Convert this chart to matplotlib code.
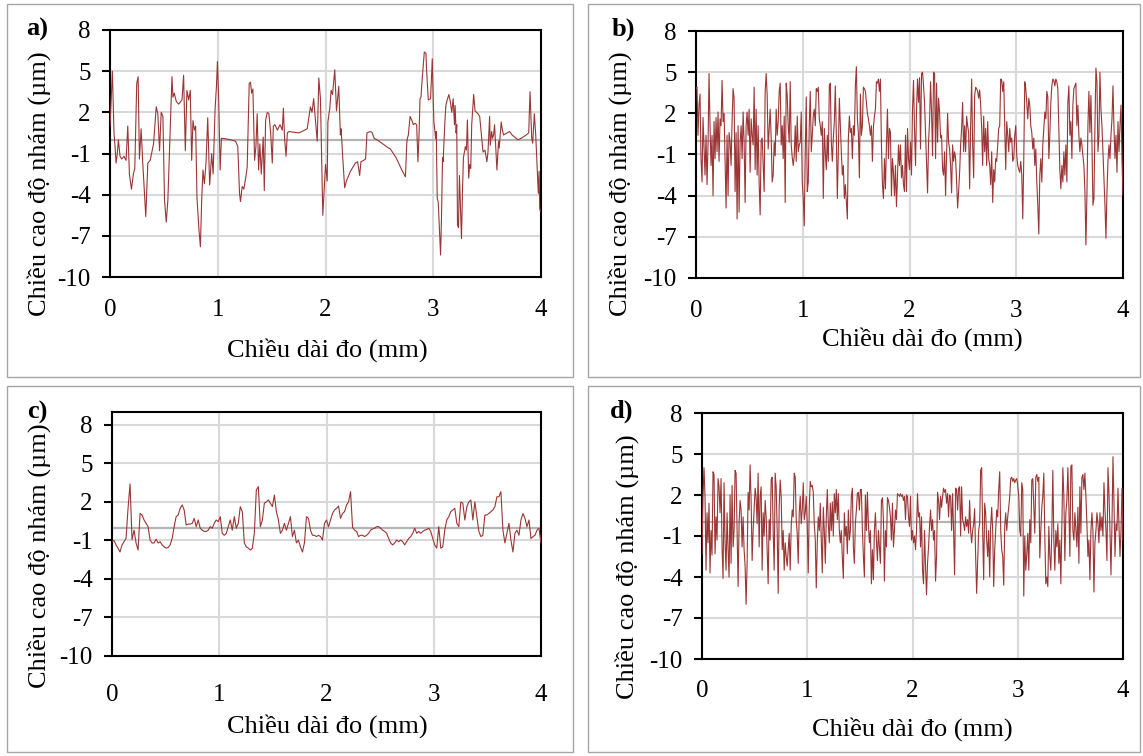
import numpy as np
import matplotlib.pyplot as plt
from matplotlib.patches import Rectangle

# --- Surface roughness profiles ---
a_x = [0.000, 0.006, 0.022, 0.037, 0.047, 0.056, 0.068, 0.078, 0.093, 0.109,
       0.130, 0.149, 0.165, 0.180, 0.199, 0.217, 0.230, 0.248, 0.261, 0.273,
       0.289, 0.304, 0.332, 0.351, 0.373, 0.404, 0.429, 0.444, 0.460, 0.475,
       0.491, 0.506, 0.522, 0.537, 0.559, 0.575, 0.584, 0.596, 0.615, 0.637,
       0.668, 0.683, 0.699, 0.714, 0.730, 0.745, 0.758, 0.770, 0.783, 0.795,
       0.807, 0.826, 0.839, 0.851, 0.863, 0.876, 0.891, 0.907, 0.925, 0.944,
       0.957, 0.975, 0.988, 0.997, 1.009, 1.022, 1.034, 1.056, 1.118, 1.165,
       1.186, 1.202, 1.211, 1.227, 1.242, 1.261, 1.273, 1.292, 1.304, 1.314,
       1.326, 1.342, 1.354, 1.366, 1.379, 1.391, 1.404, 1.422, 1.432, 1.444,
       1.460, 1.475, 1.491, 1.506, 1.516, 1.531, 1.553, 1.578, 1.599, 1.609,
       1.621, 1.634, 1.646, 1.661, 1.755, 1.830, 1.860, 1.875, 1.890, 1.923,
       1.938, 1.953, 1.975, 2.000, 2.016, 2.022, 2.040,
       2.052, 2.065, 2.086, 2.102, 2.123, 2.138, 2.145, 2.160, 2.178, 2.194,
       2.231, 2.277, 2.298, 2.317, 2.329, 2.354, 2.372, 2.385, 2.415, 2.431,
       2.452, 2.477, 2.523, 2.585, 2.600, 2.655, 2.702, 2.742, 2.754, 2.760,
       2.769, 2.785, 2.800, 2.815, 2.831, 2.846, 2.858, 2.868, 2.877, 2.886,
       2.898, 2.917, 2.932, 2.938, 2.954, 2.975, 2.991, 3.000, 3.006, 3.022,
       3.028, 3.037, 3.046, 3.068, 3.077, 3.086, 3.092, 3.098, 3.108, 3.117,
       3.129, 3.145, 3.160, 3.172, 3.185, 3.197, 3.203, 3.212, 3.218, 3.225,
       3.234, 3.243, 3.262, 3.271, 3.280, 3.289, 3.298, 3.308, 3.317, 3.329,
       3.338, 3.348, 3.357, 3.375, 3.388, 3.415, 3.431, 3.462, 3.480, 3.498,
       3.508, 3.523, 3.529, 3.542, 3.551, 3.560, 3.569, 3.591, 3.606, 3.612,
       3.631, 3.640, 3.652, 3.708, 3.732, 3.785, 3.815, 3.862, 3.886, 3.898,
       3.914, 3.923, 3.938, 3.951, 3.966, 3.975, 3.982, 3.988, 3.994]
a_um = [1.0, 2.0, 5.0, 0.5, -0.5, -1.7, -1.0, 0.0, -1.2, -1.4,
        -1.2, -1.5, 1.0, -2.5, -3.6, -2.5, -2.1, 4.1, 4.6, -1.4,
        0.8, -1.7, -5.6, -1.7, -1.5, -0.3, 2.4, 1.9, -0.8, 2.0,
        1.7, -4.4, -6.0, -4.4, 0.7, 4.6, 3.1, 3.4, 2.8, 2.6,
        2.9, 4.7, -0.8, 3.6, 2.9, 3.6, -1.5, 1.4, 0.7, 1.0,
        -4.2, -6.6, -7.8, -4.4, -2.2, -3.2, -1.7, 1.6, -3.3, -1.0,
        -2.5, 2.2, 3.9, 5.7, 2.9, -2.2, 0.1, 0.1, 0.0, -0.1,
        -0.5, -3.9, -4.5, -3.4, -3.6, -2.7, -2.0, 4.1, 4.2, 3.4,
        3.7, -1.5, -0.5, 1.9, -2.2, -0.3, -2.5, 0.2, -3.7, 1.4,
        2.0, 1.9, 0.5, -1.7, 1.0, 1.1, 0.7, 1.1, 0.7, 2.3,
        0.0, -1.2, 0.5, 0.6, 0.5, 0.8, 2.4, 2.0, 3.0, -0.1,
        4.5, 3.0, -5.5, -1.8, -3.0, 1.3, 2.3,
        3.6, 3.3, 5.1, 2.1, 3.9, 0.35, 0.8, -1.3, -3.5, -3.0,
        -2.3, -1.7, -1.6, -2.6, -1.6, -1.5, -1.4, 0.5, 0.6, 0.55,
        0.1, 0.0, -0.25, -0.6, -0.65, -1.3, -2.1, -2.7, -0.25, 0.1,
        0.35, 1.7, 1.45, 1.1, 1.2, 1.1, -1.6, 0.35, 3.0, 3.1,
        4.5, 6.4, 6.3, 5.1, 2.9, 3.0, 5.9, 2.9, 1.3, 0.1,
        0.6, -4.3, -4.5, -8.4, -5.5, -1.3, -1.6, -0.4, 1.3, 2.5,
        2.9, 3.3, 2.7, 2.0, 3.0, 1.1, 2.5, 0.5, 1.1, -6.2,
        -6.4, -2.6, -7.2, -3.8, -1.3, -0.9, -0.5, -0.75, 1.45, -2.8,
        -1.8, -2.1, 1.1, 3.3, 2.1, 1.9, 1.7, -0.9, -0.75, -1.6,
        -0.9, 1.7, -0.4, 0.6, 0.1, 0.35, 1.1, -2.2, -0.1, -0.6,
        1.3, 0.8, 0.35, 0.6, 0.35, 0.0, 0.1, 0.35, 0.5, 3.5,
        0.1, -0.25, 1.9, 0.35, -2.3, -3.9, -2.3, -5.0, -5.2]

# b, c, d are evenly sampled along the 4 mm measuring length
b_um = [3.8, 3.9, 0.4, 2.6, 3.4, -1.3, -3.0, 1.7, -0.3, -2.5,
        0.4, -3.2, -0.3, 4.9, 1.1, -1.8, 0.4, -4.0, 1.4, -1.3,
        1.7, -0.8, 2.1, -1.5, 1.6, 1.1, 4.4, 1.4, 2.0, -1.3,
        -4.9, 0.4, -4.0, 0.6, -0.1, -1.8, 1.4, 3.8, 3.1, -3.7,
        0.6, -5.7, 1.1, -5.2, -0.1, 1.1, -1.3, 2.1, -0.1, -4.5,
        1.1, 2.1, 0.4, 2.3, -2.3, 1.6, 0.4, -0.3, 3.9, -2.1,
        2.3, -2.5, 1.1, -3.2, -5.4, 0.0, 0.2, -1.8, -3.7, 3.6,
        4.9, 3.3, -0.6, 0.9, 2.3, 0.2, -3.0, -2.5, -0.1, -1.1,
        2.3, 0.4, 1.4, 3.6, 4.2, -0.3, 1.1, -1.3, 1.8, -4.5,
        4.2, 3.3, 1.1, -0.1, 4.3, -0.3, -1.2, -1.8, -1.1, 1.1,
        -1.5, 1.8, -0.8, -0.3, -0.1, 2.1, -3.0, -4.2, -6.2, -0.8,
        3.2, -3.7, -3.0, 1.1, 3.6, -0.8, 0.4, 1.8, 2.3, 1.1,
        3.8, 3.6, 3.9, 1.6, 1.1, 0.4, 1.4, -4.2, 0.9, -0.8,
        -2.1, 0.4, -1.5, 4.0, 4.2, -0.1, -1.5, 0.2, 1.4, 4.0,
        0.4, -4.2, -0.8, 3.1, 1.1, -0.8, -2.5, -1.8, -4.2, -3.2,
        -4.5, -5.7, 0.2, 1.8, 0.6, 0.9, -1.3, 1.1, 0.4, 4.0,
        5.4, 1.6, 0.6, -2.7, 3.4, 0.4, 1.1, 3.9, 3.8, 3.6,
        2.8, 2.0, 1.6, 1.1, 0.4, 1.1, -1.5, 1.0, 1.8, 2.3,
        4.3, 4.2, 4.5, 3.6, 4.5, -0.3, -3.2, -4.2, -1.3, -3.5,
        -0.3, 2.3, -1.3, 0.9, 0.6, -4.0, -1.3, -2.3, -4.0, -1.8,
        -4.8, -2.7, -0.3, -1.8, -0.3, -2.7, -1.8, -3.2, -3.7, 0.4,
        -3.7, 0.9, -1.3, -2.1, -0.1, -2.5, 2.3, 4.4,
        0.9, -1.8, 2.3, 4.5, 2.8, 4.6, -0.6, 4.9, 5.0, 4.0,
        2.8, 0.6, -1.8, -3.8, -0.1, 1.4, 4.3, 2.1, -1.1, 5.0,
        4.9, -1.3, 4.2, -0.1, 3.1, 2.1, 0.2, 0.4, -2.1, -2.5,
        -0.8, -4.0, -1.1, 2.0, -0.1, -0.6, -1.8, -3.8, -0.3, -1.5,
        -0.8, -1.3, -3.0, -4.9, -3.7, -2.3, -0.3, 0.9, 2.8, -0.8,
        1.1, -0.8, 1.8, 1.1, 0.6, -3.5, 1.1, 4.5, -0.3, -2.7,
        3.3, 3.9, 3.8, 3.6, 3.1, 3.7, 2.6, 0.9, -1.8, 1.8,
        -0.8, 0.9, -1.8, 1.4, -1.3, -1.8, -3.2, -0.8, -4.5, -2.1,
        -3.0, -1.3, -1.5, -0.3, 0.9, 1.1, 4.5, 4.4, 3.6, 4.3,
        1.1, -2.1, 1.4, 0.4, -0.8, 0.9, -0.1, 0.2, -1.5, -1.3,
        0.4, 1.1, -1.1, -1.8, -2.1, -2.3, -1.5, -2.5, -5.7, -1.3,
        4.3, 3.8, 2.8, 1.6, 3.1, 2.6, 1.1, 0.6, -0.6, 0.2,
        -1.8, -0.6, -3.0, -4.7, -6.8, -2.5, -1.3, -3.0, -0.3, 0.9,
        2.1, 1.6, 3.6, 3.2, -1.3, 0.4, 2.8, 4.0, 4.5, 4.4,
        4.0, 4.5, 4.3, 3.8, 0.9, -2.1, -3.5, -1.8, -3.0, -0.8,
        -2.5, -0.3, -3.0, 2.8, 4.0, 0.4, 1.4, -1.3, 2.6, 3.8,
        4.0, 4.2, 1.1, 2.6, 0.4, -0.8, 0.2, -0.3, -1.1, -1.8,
        -3.7, -7.6, -4.0, 1.1, 3.6, 0.6, 3.3, -0.1, -4.7, -4.2,
        1.1, 5.3, 4.3, -0.8, 0.4, 5.0, 2.3, 1.1, -0.8, -2.7,
        -4.7, -7.1, -3.7, -1.5, -0.3, -1.3, 0.4, 1.6, 4.0, 0.9,
        -1.3, 0.4, -2.3, 1.4, -0.8, 1.1, 2.6, -1.3, -4.0]

c_um = [-1.1, -1.0, -1.35, -1.6, -1.9, -1.35, -1.1, -0.85, 1.5, 3.4,
        -0.95, -0.2, -1.2, -1.75, 1.1, 0.98, 0.59, 0.33, 0.07, -0.97,
        -1.2, -1.2, -0.9, -1.2, -1.1, -1.35, -1.5, -1.6, -1.55, -1.35,
        -0.85, 0.07, 0.85, 0.98, 1.5, 1.76, 1.37, 0.2, 0.27, 0.27,
        0.33, 0.72, 0.07, 0.59, -0.05, -0.2, -0.3, -0.3, -0.2, 0.07,
        -0.05, 0.33, 0.59, 0.46, 0.85, -0.45, -0.6, -0.45, 0.07, 0.59,
        -0.2, 0.85, -0.05, 0.33, 1.63, 1.24, -1.2, -1.5, -1.6, -1.75,
        -1.6, -0.45, 2.93, 3.19, 0.07, 0.59, 1.9, 2.0, 2.15, 1.9,
        1.63, 2.54, 1.24, 0.59, -0.45, -0.2, 0.33, -0.2, 0.33, 0.85,
        -0.7, -0.2, -1.2, -0.97, -1.5, -1.9, -1.2, 0.85, 0.72, -0.2,
        -0.6, -0.6, -0.7, -0.6, -0.7, -0.97, 0.33, 0.59, 0.07,
        0.59, 1.1, 1.37, 1.5, 1.68, 0.72, 1.1, 1.24, 1.76, 2.0,
        2.8, 0.02, -0.2, -0.3, -0.7, -0.6, -0.6, -0.7, -0.6, -0.45,
        -0.2, -0.1, -0.05, 0.07, 0.07, -0.05, -0.2, -0.3, -0.45, -0.85,
        -1.2, -1.35, -1.2, -0.97, -1.1, -0.97, -1.1, -1.35, -1.1, -0.85,
        -0.7, -0.45, -0.05, -0.45, -0.3, -0.45, -0.3, -0.2, -0.15, -0.05,
        -0.3, -0.85, -1.35, -1.6, 0.07, -1.6, -1.5, -0.2, 0.59, 0.85,
        1.24, 1.37, 1.5, 0.33, 0.07, 2.0, 1.9, 0.59, 1.63, 2.0,
        2.15, 0.59, 2.0, 0.85, -0.3, -0.7, -0.6, 0.98, 0.98, 1.1,
        1.24, 1.37, 1.63, 2.4, 2.4, 2.8, -0.2, -1.2, -0.45, 0.33,
        -0.97, -1.9, -0.45, -0.2, -0.6, 0.59, 1.1, 0.72, 0.07, 0.59,
        -0.85, -0.7, -0.6, -0.2, -0.05, -1.2]

d_um = [-2.3, 1.9, 4.0, 1.9, -3.5, 0.7, -1.5, 1.4, -3.7, -0.6,
        -2.4, 3.7, 3.5, -2.3, 0.4, -1.3, 3.2, 2.6, 0.7, 3.2,
        -1.8, -4.1, 2.9, -1.5, -3.5, 0.7, -2.0, -4.0, 2.0, -3.0,
        2.7, -1.8, -0.6, 3.8, 3.6, -0.6, -4.7, -0.1, 1.6, 0.9,
        -1.8, 0.4, -2.0, -3.2, -6.0, -3.0, 2.2, 0.9, 4.2, 1.6,
        -2.8, -0.6, 0.9, 2.5, 1.8, -0.1, 3.6, -1.8, 1.9, 2.6,
        -3.5, 0.7, -1.0, 1.6, 0.4, -2.0, -4.5, 0.2, -1.3, 3.1,
        3.3, -0.6, -3.5, 3.6, 2.6, -0.6, -5.2, 1.1, 3.1, 1.9,
        -2.0, -0.6, -3.5, -1.5, -2.5, -3.2, -2.0, -0.8, -3.5, -0.3,
        0.9, 0.4, 3.6, 3.3, 0.2, -0.8, -3.0, 0.7, 1.9, -0.1,
        0.9, 2.9, 0.2, 0.7, 1.9, -0.1, -3.7, 1.1, 3.0, 2.6,
        2.7, 2.2, -0.1, -1.3, -4.8, -1.5, 0.4, -0.6, 1.4, -1.3,
        -3.7, 1.1, -0.6, -3.0, 0.4, 2.4, -0.1, -1.5, 1.4, -0.6,
        1.5, -1.0, 2.1, 0.7, 2.4, 0.2, 2.1, -0.6, -1.5, -0.6,
        -2.6, -4.1, 0.7, -1.0, -0.3, -2.3, 0.9, -1.3, -0.6, 1.9,
        2.5, -1.8, -3.0, -0.1, 0.9, 2.1, 2.2, 0.9, 2.4, 2.4,
        -0.6, -2.5, -4.0, 2.0, -0.6, 2.2, -0.1, -1.5, -0.6, -4.5,
        -2.0, -4.2, -0.6, 0.7, -1.3, -2.8, -0.6, -1.8, -3.0, 1.6,
        1.8, 0.2, -4.3, -0.6, -1.8, 1.8, 1.6, 1.1, 0.4, -1.3,
        1.4, -1.8, -0.6, 0.9, 0.2, 2.1, 2.0, 1.9, 2.1, 1.9,
        2.0, 1.6, 1.9, 0.2, 2.0, 1.9, 0.4, -0.3, 1.9, -1.3,
        -0.6, -1.5, -1.0, -2.0, -0.6, 2.1, 0.4,
        0.7, -1.8, 0.4, -3.5, -4.5, -0.6, -3.2, -5.3, -3.0, -1.8,
        -0.3, 0.9, -0.6, 0.2, -1.3, -0.6, -4.3, -2.5, 2.2, 1.6,
        0.2, 1.9, 1.1, 1.9, 2.5, 2.2, 2.4, 1.4, 2.1, 0.4,
        2.0, 1.9, -0.6, 2.1, -0.6, -3.85, 2.5, 2.4, 0.9, 2.5,
        2.6, -1.0, 2.6, 0.2, -0.1, -0.6, 0.4, -0.3, 0.2, -0.8,
        1.6, -0.6, -1.5, -0.6, -0.1, 1.0, -2.5, -5.2, -3.0, -0.6,
        -0.1, 3.8, 4.0, -0.6, -4.2, 1.4, 0.7, -1.3, -2.5, -0.6,
        -4.0, -0.3, 1.1, -0.6, -4.7, -2.0, -0.6, 0.9, 0.4, 2.4,
        3.7, -0.6, -2.0, -2.5, -4.6, -0.3, 0.7, -0.6, 0.4, 1.1,
        1.9, 3.2, 3.3, 3.0, 3.2, 2.9, 3.1, 3.2, 2.7, 1.9,
        -0.6, -1.0, 2.9, 2.4, -5.4, -1.0, -3.5, -2.3, -0.8, -3.5,
        0.2, -1.5, 3.1, 3.2, 1.1, -0.8, 3.3, 3.5, 3.0, 3.3,
        -2.6, -0.6, 1.1, 1.9, 3.6, -1.0, -4.5, -4.0, -4.7, -0.3,
        -2.5, -3.5, -0.6, 3.8, -1.3, -3.5, -0.6, -1.8, -0.1, -3.0,
        -1.3, -4.5, -0.1, 4.0, 1.9, -2.8, 0.7, 1.6, 4.0, 1.1,
        -2.5, 4.1, 4.2, -0.6, -1.3, 0.7, -0.6, -1.8, 1.1, -3.0,
        2.6, -0.8, 3.3, 3.5, 2.4, 3.6, 1.9, -0.1, -2.5, -1.3,
        -4.2, -0.6, 0.7, -0.6, -5.1, -1.5, -0.6, 0.7, -0.1, -1.5,
        0.7, -0.6, 0.4, -1.0, 2.9, 0.9, -0.6, -2.8, 4.0, 2.1,
        -0.6, -3.85, -0.1, 4.8, 1.4, -2.5, -0.1, -0.6, 2.5, -0.3,
        -2.5, -0.6, 2.5, -1.3]

y_ticks = [-10, -7, -4, -1, 2, 5, 8]
x_ticks = [0, 1, 2, 3, 4]
y_title = 'Chiều cao độ nhám (µm)'
x_title = 'Chiều dài đo (mm)'

# --- Figure, sized in pixels ---
plt.rcParams['font.family'] = ['Liberation Serif', 'DejaVu Serif']
plt.rcParams['axes.unicode_minus'] = False
W, H = 1143, 756
fig = plt.figure(figsize=(W / 100, H / 100), dpi=100)


def px_axes(left, top, right, bottom):
    return fig.add_axes([left / W, 1 - bottom / H, (right - left) / W, (bottom - top) / H])


def px_text(x, y, s, **kw):
    fig.text(x / W, 1 - y / H, s, **kw)


def px_box(x0, y0, x1, y1):
    fig.add_artist(Rectangle((x0 / W, 1 - y1 / H), (x1 - x0) / W, (y1 - y0) / H,
                             transform=fig.transFigure, fill=False,
                             edgecolor='#a6a6a6', linewidth=1.0))


# panel frames
px_box(7, 4, 573, 377)
px_box(588, 4, 1140, 377)
px_box(7, 386, 573, 752)
px_box(588, 386, 1140, 752)

panels = [
    # (letter, x, y, ymax, axes box in px, x tick pad, letter pos, ylabel pos, xlabel pos)
    ('a)', a_x, a_um, 8, (110, 30, 541, 277), 16, (37, 29), (39, 184), (327, 350)),
    ('b)', None, b_um, 8, (696, 31, 1123, 278), 16, (623, 29), (620, 184), (922, 339)),
    ('c)', None, c_um, 9, (112, 412, 541, 656), 20, (37, 412), (39, 556), (327, 726)),
    ('d)', None, d_um, 8, (702, 413, 1123, 659), 15, (622, 411), (627, 567), (912, 729)),
]

for letter, xs, ys, ymax, box, xpad, lpos, ypos, xpos in panels:
    ax = px_axes(*box)
    if xs is None:
        xs = np.linspace(0, 4, len(ys))
    ax.plot(xs, ys, color='#9c3535', linewidth=0.8, zorder=3)
    ax.axhline(0, color='#b4b4b4', linewidth=1.6, zorder=2)
    ax.set_xlim(0, 4)
    ax.set_ylim(-10, ymax)
    ax.set_xticks(x_ticks)
    ax.set_yticks(y_ticks)
    ax.grid(True, color='#d9d9d9', linewidth=1.5, zorder=1)
    ax.set_axisbelow(True)
    for s in ax.spines.values():
        s.set_linewidth(1.5)
        s.set_color('black')
    ax.tick_params(axis='y', direction='out', length=6, width=1.5, labelsize=18, pad=8)
    ax.tick_params(axis='x', length=0, labelsize=18, pad=xpad)

    px_text(*lpos, letter, fontsize=19, fontweight='bold', ha='center', va='center')
    px_text(*ypos, y_title, fontsize=19, rotation=90, ha='center', va='center')
    px_text(*xpos, x_title, fontsize=19, ha='center', va='center')

plt.savefig('out.png', dpi=100)
